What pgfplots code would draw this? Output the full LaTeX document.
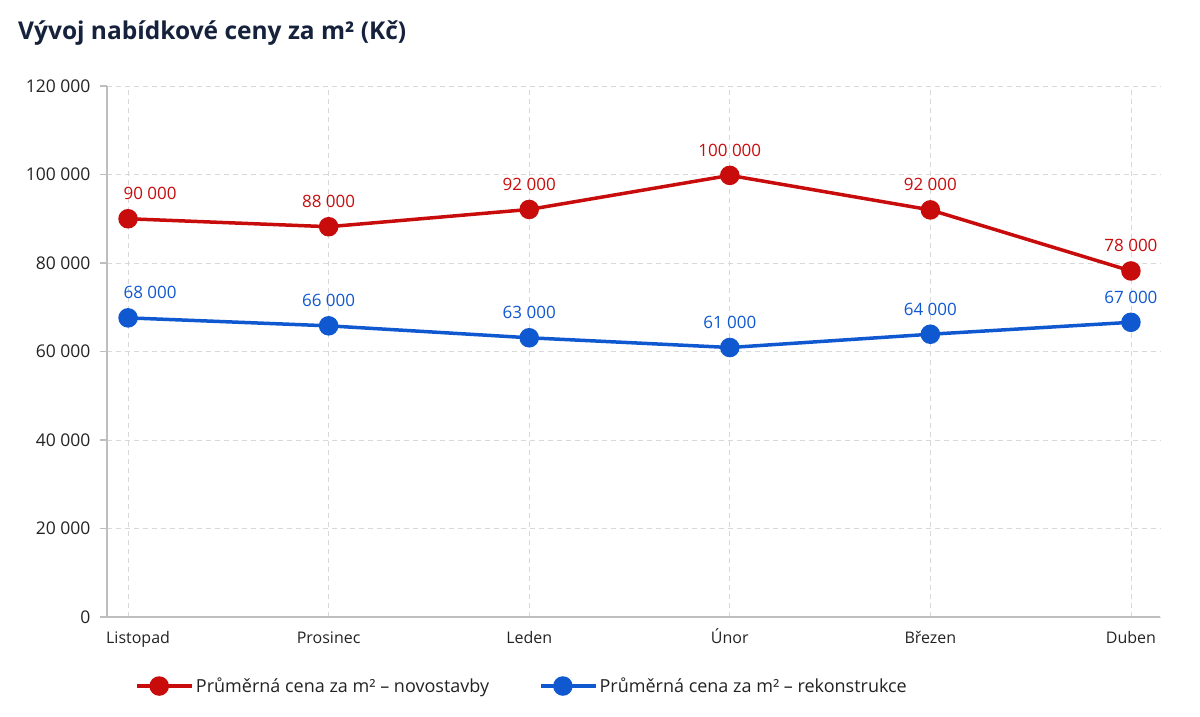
\documentclass[border=0pt]{standalone}
\usepackage{fontspec}
\setmainfont{Open Sans}
\usepackage{pgfplots}
\pgfplotsset{compat=1.18}
\definecolor{cred}{RGB}{200,12,12}
\definecolor{cblue}{RGB}{16,88,208}
\definecolor{ctitle}{RGB}{22,34,60}
\definecolor{cgrid}{RGB}{216,216,216}
\definecolor{caxis}{RGB}{190,190,190}
\definecolor{ctext}{RGB}{35,35,35}
\begin{document}
\begin{tikzpicture}
\path[use as bounding box] (-107pt,-100pt) rectangle (1093pt,617pt);
\node[anchor=west, text=ctitle, font=\fontsize{24.5}{28}\selectfont\bfseries, inner sep=0pt] at (-89pt,584pt) {Vývoj nabídkové ceny za m² (Kč)};
\begin{axis}[
  at={(0pt,0pt)}, anchor=south west,
  scale only axis, width=1053pt, height=531pt,
  xmin=-0.105, xmax=5.145, ymin=0, ymax=120000,
  xtick={0,...,5},
  xticklabels={{\kern20pt Listopad},Prosinec,Leden,Únor,Březen,Duben},
  ytick={0,20000,...,120000},
  scaled y ticks=false,
  /pgf/number format/fixed,
  /pgf/number format/1000 sep={\ },
  /pgf/number format/assume math mode=true,
  axis x line*=bottom, axis y line*=left,
  axis line style={draw=caxis, line width=1.2pt, -},
  grid=major,
  major grid style={draw=cgrid, dash pattern=on 5pt off 4pt, line width=0.9pt},
  tick style={draw=caxis, line width=1.2pt},
  tick align=outside, major tick length=7pt,
  xtick style={draw=none},
  tick label style={font=\fontsize{16}{19}\selectfont, text=ctext},
  yticklabel style={anchor=east, xshift=-6pt, font=\fontsize{17.5}{20}\selectfont},
  xticklabel style={anchor=base, yshift=-20pt},
  point meta=explicit symbolic,
  nodes near coords,
  nodes near coords style={anchor=base, yshift=19pt, font=\fontsize{17}{20}\selectfont},
  legend columns=2,
  legend style={draw=none, fill=none, at={(0.024,-0.13)}, anchor=west,
    font=\fontsize{18}{21}\selectfont, text=ctext,
    /tikz/every even column/.append style={column sep=48pt}},
  legend cell align=left,
  legend image code/.code={\path (0pt,0pt) -- (55pt,0pt);\draw[mark repeat=2,mark phase=2] plot coordinates {(0pt,0pt) (22pt,0pt) (45pt,0pt)};},
]
\addplot[cred, line width=3.5pt, mark=*, mark size=8pt, mark options={solid}, nodes near coords style={text=cred}]
  coordinates {(0,90000)[{\kern44pt 90 000}] (1,88200)[88 000] (2,92100)[92 000] (3,99800)[100 000] (4,92000)[92 000] (5,78200)[78 000]};
\addlegendentry{Průměrná cena za m² – novostavby}
\addplot[cblue, line width=3.5pt, mark=*, mark size=8pt, mark options={solid}, nodes near coords style={text=cblue}]
  coordinates {(0,67600)[{\kern44pt 68 000}] (1,65800)[66 000] (2,63100)[63 000] (3,60900)[61 000] (4,63900)[64 000] (5,66600)[67 000]};
\addlegendentry{Průměrná cena za m² – rekonstrukce}
\end{axis}
\end{tikzpicture}
\end{document}
